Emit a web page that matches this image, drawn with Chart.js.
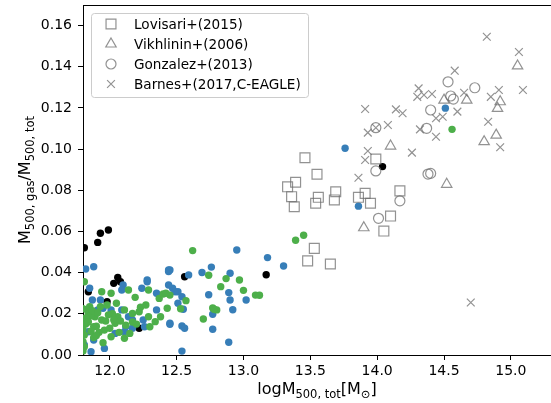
<!DOCTYPE html>
<html>
<head>
<meta charset="utf-8">
<script src="https://cdn.jsdelivr.net/npm/chart.js@4"></script>
<style>
    html, body { margin: 0; padding: 0; background: #fff; }
    #wrap { position: relative; width: 551px; height: 403px; }
</style>
</head>
<body>
<div id="wrap"><canvas id="gasChart" width="551" height="403"></canvas></div>
<script>
// Observational samples (grey open markers)
const lovisariMass = [13.46, 13.55, 13.39, 13.33, 13.36, 13.38, 13.54, 13.56, 13.69, 13.68, 13.86, 13.91, 13.95, 13.99, 14.17, 14.10, 14.05, 13.53, 13.48, 13.65];
const lovisariFrac = [0.0958, 0.0878, 0.0839, 0.0817, 0.0769, 0.0720, 0.0737, 0.0766, 0.0793, 0.0753, 0.0766, 0.0785, 0.0737, 0.0952, 0.0797, 0.0675, 0.0602, 0.0518, 0.0457, 0.0442];

const vikhlininMass = [15.05, 14.67, 14.50, 14.92, 14.90, 14.89, 14.80, 14.10, 14.52, 13.90];
const vikhlininFrac = [0.1404, 0.1238, 0.1238, 0.1230, 0.1198, 0.1068, 0.1036, 0.1015, 0.0829, 0.0618];

const gonzalezMass = [14.53, 14.73, 14.55, 14.57, 14.40, 14.37, 13.99, 13.99, 14.38, 14.40, 14.17, 14.01];
const gonzalezFrac = [0.1327, 0.1298, 0.1258, 0.1243, 0.1190, 0.1101, 0.1104, 0.0894, 0.0879, 0.0882, 0.0749, 0.0664];

const barnesMass = [14.82, 15.06, 14.58, 15.09, 14.91, 14.85, 14.31, 14.30, 14.35, 14.41, 14.65, 14.60, 13.91, 14.14, 14.19, 14.44, 14.49, 14.08, 13.93, 13.99, 14.32, 14.44, 14.83, 14.92, 13.93, 14.26, 13.91, 13.86, 14.70];
const barnesFrac = [0.1546, 0.1472, 0.1381, 0.1287, 0.1287, 0.1254, 0.1295, 0.1254, 0.1263, 0.1268, 0.1274, 0.1182, 0.1195, 0.1193, 0.1174, 0.1150, 0.1157, 0.1117, 0.1080, 0.1104, 0.1096, 0.1060, 0.1133, 0.1009, 0.0991, 0.0983, 0.0947, 0.0861, 0.0255];

// Simulated haloes (filled dots)
const blackMass = [11.81, 11.91, 11.93, 11.99, 12.06, 12.03, 12.08, 11.84, 11.98, 12.22, 12.56, 13.17, 14.04];
const blackFrac = [0.0521, 0.0547, 0.0591, 0.0607, 0.0377, 0.0348, 0.0356, 0.0307, 0.0259, 0.0130, 0.0380, 0.0390, 0.0915];

const blueMass = [13.76, 14.51, 13.86, 13.30, 13.18,
    12.95, 12.59, 12.45, 12.76, 12.69, 12.90, 12.89, 12.90, 13.02, 12.74, 12.92, 12.77, 12.77, 12.89, 12.54, 12.54, 12.56, 12.45, 12.47, 12.51, 12.54, 12.51, 12.55,
    11.82, 11.88, 12.44, 12.44, 12.28, 12.28, 12.10, 12.24, 12.35, 12.44, 12.49, 11.87, 11.93, 11.85, 12.09, 11.91, 11.95, 12.01, 12.09, 12.14, 12.17, 12.12, 12.17, 12.26, 12.35, 12.45, 12.25, 11.88, 11.86, 11.96, 11.81, 11.84, 12.04, 12.11];
const blueFrac = [0.1004, 0.1199, 0.0723, 0.0432, 0.0473,
    0.0510, 0.0389, 0.0413, 0.0427, 0.0401, 0.0397, 0.0303, 0.0267, 0.0267, 0.0293, 0.0220, 0.0198, 0.0125, 0.0062, 0.0019, 0.0141, 0.0130, 0.0149, 0.0324, 0.0307, 0.0283, 0.0251, 0.0222,
    0.0418, 0.0429, 0.0413, 0.0405, 0.0364, 0.0356, 0.0340, 0.0324, 0.0300, 0.0340, 0.0307, 0.0267, 0.0267, 0.0324, 0.0316, 0.0219, 0.0227, 0.0219, 0.0219, 0.0186, 0.0170, 0.0137, 0.0130, 0.0137, 0.0219, 0.0154, 0.0170, 0.0073, 0.0016, 0.0032, 0.0049, 0.0113, 0.0105, 0.0113];

const greenMass = [14.56, 13.39, 13.45,
    12.62, 12.74, 12.87, 12.97, 12.83, 13.00, 13.09, 13.12, 12.77, 12.80, 12.70, 12.57, 12.53, 12.45, 12.78,
    11.81, 11.94, 12.01, 12.14, 12.19, 12.29, 12.37, 12.43, 12.40, 12.42, 12.23, 12.27, 12.11, 12.05, 11.98, 11.84, 11.89, 11.80, 11.88, 11.94, 11.96, 12.04, 12.06, 12.01, 12.11, 12.17, 12.17, 12.30, 12.34, 12.38, 12.29, 11.81, 11.81, 11.82, 11.93, 11.85,
    11.83, 11.86, 11.90, 11.92, 11.97, 12.00, 12.02, 12.07, 12.12, 12.15, 12.20, 12.22, 11.88, 11.95,
    11.80, 11.80, 11.80, 11.80, 11.82, 11.84, 11.87, 11.91, 11.99, 12.03, 12.08, 11.86, 11.90];
const greenFrac = [0.1096, 0.0557, 0.0582,
    0.0507, 0.0387, 0.0371, 0.0364, 0.0332, 0.0314, 0.0291, 0.0290, 0.0228, 0.0219, 0.0175, 0.0264, 0.0225, 0.0291, 0.0222,
    0.0356, 0.0307, 0.0300, 0.0316, 0.0280, 0.0316, 0.0275, 0.0227, 0.0296, 0.0300, 0.0232, 0.0243, 0.0219, 0.0251, 0.0243, 0.0202, 0.0186, 0.0170, 0.0137, 0.0170, 0.0121, 0.0154, 0.0186, 0.0089, 0.0081, 0.0202, 0.0160, 0.0137, 0.0162, 0.0186, 0.0186, 0.0097, 0.0040, 0.0150, 0.0235, 0.0235,
    0.0220, 0.0190, 0.0140, 0.0110, 0.0165, 0.0130, 0.0200, 0.0110, 0.0145, 0.0105, 0.0150, 0.0210, 0.0085, 0.0060,
    0.0020, 0.0065, 0.0125, 0.0225, 0.0180, 0.0160, 0.0215, 0.0205, 0.0195, 0.0170, 0.0165, 0.0115, 0.0095];

const massTicks = [12.0, 12.5, 13.0, 13.5, 14.0, 14.5, 15.0];
const fracTicks = [0.00, 0.02, 0.04, 0.06, 0.08, 0.10, 0.12, 0.14, 0.16];

const FONT = 'DejaVu Sans';
const GREY = 'rgba(110,110,110,0.75)';

function toPoints(xs, ys) {
    return xs.map((x, i) => ({ x: x, y: ys[i] }));
}

function openMarker(label, xs, ys, style, radius) {
    return {
        label: label,
        data: toPoints(xs, ys),
        pointStyle: style,
        pointRadius: radius,
        pointBorderWidth: 1.2,
        pointBorderColor: GREY,
        pointBackgroundColor: 'rgba(0,0,0,0)',
        xAxisID: 'x',
        yAxisID: 'y',
        clip: 0
    };
}

function dots(label, xs, ys, color) {
    return {
        label: label,
        data: toPoints(xs, ys),
        pointStyle: 'circle',
        pointRadius: 3.7,
        pointBorderWidth: 0,
        pointBackgroundColor: color,
        xAxisID: 'x',
        yAxisID: 'y',
        clip: 0,
        inLegend: false
    };
}

// no automatic label padding: the axes box is fixed
function noPadding(s) {
    s.paddingTop = 0;
    s.paddingBottom = 0;
    s.paddingLeft = 0;
    s.paddingRight = 0;
}

// draws text with subscript pieces, centred on cx
function drawRich(ctx, parts, cx, baseY) {
    const main = '16px "' + FONT + '"';
    const sub = '11.5px "' + FONT + '"';
    let total = 0;
    parts.forEach(p => {
        ctx.font = p.sub ? sub : main;
        total += ctx.measureText(p.t).width;
    });
    let x = cx - total / 2;
    ctx.textAlign = 'left';
    ctx.textBaseline = 'alphabetic';
    parts.forEach(p => {
        ctx.font = p.sub ? sub : main;
        ctx.fillText(p.t, x, baseY + (p.sub ? 3.5 : 0));
        x += ctx.measureText(p.t).width;
    });
}

const axisTitles = {
    id: 'axisTitles',
    afterDraw(chart) {
        const { ctx, chartArea } = chart;
        ctx.save();
        ctx.fillStyle = '#000';
        drawRich(ctx, [
            { t: 'logM' }, { t: '500, tot', sub: true }, { t: '[M' }, { t: '\u2299', sub: true }, { t: ']' }
        ], 317, 394);

        ctx.translate(30, (chartArea.top + chartArea.bottom) / 2);
        ctx.rotate(-Math.PI / 2);
        drawRich(ctx, [
            { t: 'M' }, { t: '500, gas', sub: true }, { t: '/M' }, { t: '500, tot', sub: true }
        ], 0, 0);
        ctx.restore();
    }
};

// matplotlib-like framed legend in the upper left of the axes
const boxedLegend = {
    id: 'boxedLegend',
    afterDraw(chart) {
        const ctx = chart.ctx;
        const left = chart.chartArea.left + 8;
        const top = chart.chartArea.top + 8;
        const w = 217, h = 84;
        ctx.save();
        ctx.beginPath();
        ctx.roundRect(left + 0.5, top + 0.5, w, h, 3);
        ctx.fillStyle = 'rgba(255,255,255,0.8)';
        ctx.fill();
        ctx.strokeStyle = '#cccccc';
        ctx.lineWidth = 1;
        ctx.stroke();

        let row = 0;
        chart.data.datasets.forEach(ds => {
            if (ds.inLegend === false) return;
            const cy = top + 11 + row * 20;
            ctx.strokeStyle = ds.pointBorderColor;
            ctx.fillStyle = 'rgba(0,0,0,0)';
            ctx.lineWidth = ds.pointBorderWidth;
            Chart.helpers.drawPoint(ctx, {
                pointStyle: ds.pointStyle,
                radius: ds.pointRadius,
                rotation: 0,
                borderWidth: ds.pointBorderWidth
            }, left + 20, cy);
            ctx.fillStyle = '#000';
            ctx.font = '13.6px "' + FONT + '"';
            ctx.textAlign = 'left';
            ctx.textBaseline = 'alphabetic';
            ctx.fillText(ds.label, left + 43, cy + 5);
            row++;
        });
        ctx.restore();
    }
};

const tickFont = { family: FONT, size: 14 };

new Chart(document.getElementById('gasChart'), {
    type: 'scatter',
    data: {
        datasets: [
            openMarker('Lovisari+(2015)', lovisariMass, lovisariFrac, 'rect', 7),
            openMarker('Vikhlinin+(2006)', vikhlininMass, vikhlininFrac, 'triangle', 6),
            openMarker('Gonzalez+(2013)', gonzalezMass, gonzalezFrac, 'circle', 5),
            openMarker('Barnes+(2017,C-EAGLE)', barnesMass, barnesFrac, 'crossRot', 5.5),
            dots('green', greenMass, greenFrac, '#4daf4a'),
            dots('blue', blueMass, blueFrac, '#377eb8'),
            dots('black', blackMass, blackFrac, '#000000')
        ]
    },
    options: {
        responsive: false,
        animation: false,
        events: [],
        layout: { autoPadding: false, padding: { left: 0, right: 0, top: 5, bottom: 0 } },
        plugins: {
            legend: { display: false },
            tooltip: { enabled: false }
        },
        scales: {
            x: {
                type: 'linear',
                position: 'bottom',
                min: 11.8,
                max: 15.3,
                afterBuildTicks: s => { s.ticks = massTicks.map(v => ({ value: v })); },
                afterFit: s => { s.height = 48; noPadding(s); },
                ticks: {
                    callback: v => v.toFixed(1),
                    font: tickFont,
                    color: '#000',
                    padding: 3,
                    maxRotation: 0,
                    autoSkip: false
                },
                grid: { display: true, drawOnChartArea: false, drawTicks: true, tickLength: 5, color: '#000' },
                border: { display: true, color: '#000', width: 1 }
            },
            xTop: {
                type: 'linear',
                position: 'top',
                min: 11.8,
                max: 15.3,
                afterFit: s => { s.height = 0; noPadding(s); },
                ticks: { display: false },
                grid: { display: false, drawTicks: false },
                border: { display: true, color: '#000', width: 1 }
            },
            y: {
                type: 'linear',
                position: 'left',
                min: 0,
                max: 0.17,
                afterBuildTicks: s => { s.ticks = fracTicks.map(v => ({ value: v })); },
                afterFit: s => { s.width = 83; noPadding(s); },
                ticks: {
                    callback: v => v.toFixed(2),
                    font: tickFont,
                    color: '#000',
                    padding: 6
                },
                grid: { display: true, drawOnChartArea: false, drawTicks: true, tickLength: 5, color: '#000' },
                border: { display: true, color: '#000', width: 1 }
            }
        }
    },
    plugins: [boxedLegend, axisTitles]
});
</script>
</body>
</html>
